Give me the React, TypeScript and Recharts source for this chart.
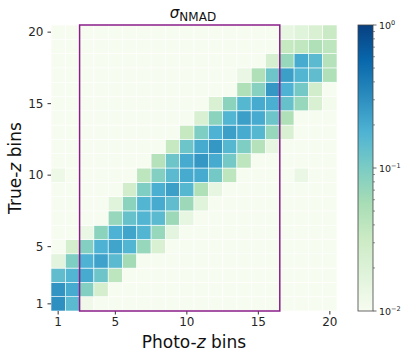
import { ScatterChart, Scatter, XAxis, YAxis, ReferenceArea } from 'recharts';

const photoZBins = [1, 2, 3, 4, 5, 6, 7, 8, 9, 10, 11, 12, 13, 14, 15, 16, 17, 18, 19, 20];
const trueZBins = [1, 2, 3, 4, 5, 6, 7, 8, 9, 10, 11, 12, 13, 14, 15, 16, 17, 18, 19, 20];
const xTicks = [1, 5, 10, 15, 20];
const yTicks = [1, 5, 10, 15, 20];
const colorbarTicks = [1, 0.1, 0.01];
const colorbarExponents = ['0', '\u22121', '\u22122'];
const minorTicks = [0.02, 0.03, 0.04, 0.05, 0.06, 0.07, 0.08, 0.09, 0.2, 0.3, 0.4, 0.5, 0.6, 0.7, 0.8, 0.9];

// sigma_NMAD per cell, one row per true-z bin (bottom row first), columns = photo-z bins 1..20
const sigmaRows: number[][] = [
  [0.3, 0.15, 0.012, 0.01, 0.01, 0.01, 0.01, 0.01, 0.01, 0.01, 0.01, 0.01, 0.01, 0.01, 0.01, 0.01, 0.01, 0.01, 0.01, 0.01],
  [0.28, 0.2, 0.09, 0.025, 0.01, 0.01, 0.01, 0.01, 0.01, 0.01, 0.01, 0.01, 0.01, 0.01, 0.01, 0.01, 0.01, 0.01, 0.01, 0.01],
  [0.14, 0.17, 0.2, 0.12, 0.04, 0.01, 0.01, 0.01, 0.01, 0.01, 0.01, 0.01, 0.01, 0.01, 0.01, 0.01, 0.01, 0.01, 0.01, 0.01],
  [0.017, 0.095, 0.18, 0.23, 0.15, 0.06, 0.01, 0.01, 0.01, 0.01, 0.01, 0.01, 0.01, 0.01, 0.01, 0.01, 0.01, 0.01, 0.01, 0.01],
  [0.01, 0.025, 0.09, 0.18, 0.22, 0.17, 0.07, 0.022, 0.01, 0.01, 0.01, 0.01, 0.01, 0.01, 0.01, 0.01, 0.01, 0.01, 0.01, 0.01],
  [0.01, 0.01, 0.014, 0.08, 0.18, 0.22, 0.17, 0.07, 0.016, 0.01, 0.01, 0.01, 0.01, 0.01, 0.01, 0.01, 0.01, 0.01, 0.01, 0.01],
  [0.01, 0.01, 0.01, 0.01, 0.07, 0.13, 0.17, 0.15, 0.065, 0.015, 0.01, 0.01, 0.01, 0.01, 0.01, 0.01, 0.01, 0.01, 0.01, 0.01],
  [0.01, 0.01, 0.01, 0.01, 0.018, 0.08, 0.17, 0.2, 0.14, 0.065, 0.018, 0.01, 0.01, 0.01, 0.01, 0.01, 0.01, 0.01, 0.01, 0.01],
  [0.01, 0.01, 0.01, 0.01, 0.01, 0.027, 0.095, 0.19, 0.24, 0.16, 0.05, 0.015, 0.01, 0.01, 0.01, 0.01, 0.01, 0.01, 0.01, 0.01],
  [0.013, 0.01, 0.01, 0.01, 0.01, 0.01, 0.04, 0.09, 0.15, 0.2, 0.2, 0.11, 0.04, 0.01, 0.01, 0.01, 0.01, 0.014, 0.01, 0.01],
  [0.01, 0.01, 0.01, 0.01, 0.01, 0.01, 0.01, 0.045, 0.12, 0.2, 0.27, 0.2, 0.11, 0.04, 0.01, 0.01, 0.01, 0.01, 0.01, 0.01],
  [0.01, 0.01, 0.01, 0.01, 0.01, 0.01, 0.01, 0.01, 0.035, 0.12, 0.2, 0.27, 0.16, 0.095, 0.045, 0.015, 0.01, 0.01, 0.01, 0.01],
  [0.01, 0.01, 0.01, 0.01, 0.01, 0.01, 0.01, 0.01, 0.01, 0.035, 0.095, 0.18, 0.24, 0.2, 0.16, 0.07, 0.022, 0.01, 0.01, 0.01],
  [0.01, 0.01, 0.01, 0.01, 0.01, 0.01, 0.01, 0.01, 0.01, 0.01, 0.022, 0.08, 0.17, 0.24, 0.2, 0.12, 0.05, 0.01, 0.01, 0.01],
  [0.01, 0.01, 0.01, 0.01, 0.01, 0.01, 0.01, 0.01, 0.01, 0.01, 0.01, 0.022, 0.08, 0.16, 0.2, 0.19, 0.13, 0.07, 0.022, 0.011],
  [0.01, 0.01, 0.01, 0.01, 0.01, 0.01, 0.01, 0.01, 0.01, 0.01, 0.01, 0.01, 0.01, 0.05, 0.085, 0.27, 0.18, 0.11, 0.027, 0.01],
  [0.01, 0.01, 0.01, 0.01, 0.01, 0.01, 0.01, 0.01, 0.01, 0.01, 0.01, 0.01, 0.01, 0.014, 0.05, 0.12, 0.24, 0.17, 0.14, 0.05],
  [0.01, 0.01, 0.01, 0.01, 0.01, 0.01, 0.01, 0.01, 0.01, 0.01, 0.01, 0.01, 0.01, 0.01, 0.01, 0.024, 0.07, 0.2, 0.15, 0.045],
  [0.01, 0.01, 0.01, 0.01, 0.01, 0.01, 0.01, 0.01, 0.01, 0.01, 0.01, 0.01, 0.01, 0.01, 0.01, 0.01, 0.035, 0.038, 0.05, 0.04],
  [0.01, 0.01, 0.01, 0.01, 0.01, 0.01, 0.01, 0.01, 0.01, 0.01, 0.01, 0.01, 0.01, 0.01, 0.01, 0.01, 0.015, 0.018, 0.022, 0.033],
];

// matplotlib GnBu
const GNBU = ['#f7fcf0', '#e0f3db', '#ccebc5', '#a8ddb5', '#7bccc4', '#4eb3d3', '#2b8cbe', '#0868ac', '#084081'];

const W = 409;
const H = 359;
const PLOT_LEFT = 51;
const PLOT_TOP = 25;
const PLOT_W = 286;
const PLOT_H = 286;
const CELL_W = PLOT_W / 20;
const CELL_H = PLOT_H / 20;
const CBAR_X = 358;
const CBAR_W = 15;
const FONT = 'DejaVu Sans, sans-serif';

function hexToRgb(h: string) {
  const n = parseInt(h.slice(1), 16);
  return [(n >> 16) & 255, (n >> 8) & 255, n & 255];
}

function logFrac(v: number) {
  return Math.min(1, Math.max(0, (Math.log10(v) + 2) / 2));
}

function colorFor(v: number) {
  const s = logFrac(v) * 8;
  const i = Math.min(7, Math.floor(s));
  const f = s - i;
  const a = hexToRgb(GNBU[i]);
  const b = hexToRgb(GNBU[i + 1]);
  const c = a.map((x, k) => Math.round(x + (b[k] - x) * f));
  return `rgb(${c[0]},${c[1]},${c[2]})`;
}

const cells = sigmaRows.flatMap((row, j) =>
  row.map((v, i) => ({ x: photoZBins[i], y: trueZBins[j], v }))
);

const HeatCell = (props: any) => {
  const { cx, cy, payload } = props;
  return (
    <rect
      x={cx - CELL_W / 2}
      y={cy - CELL_H / 2}
      width={CELL_W}
      height={CELL_H}
      fill={colorFor(payload.v)}
      stroke="#ffffff"
      strokeWidth={0.6}
    />
  );
};

const tickStyle = { fontSize: 12, fill: '#262626', fontFamily: FONT };

const App = () => {
  const cbarY = (v: number) => PLOT_TOP + PLOT_H - logFrac(v) * PLOT_H;
  return (
    <div style={{ position: 'absolute', left: 0, top: 0, width: W, height: H, background: '#fff' }}>
      <ScatterChart width={W} height={H} margin={{ top: PLOT_TOP, right: 72, bottom: 28, left: 21 }}>
        <XAxis
          type="number"
          dataKey="x"
          domain={[0.5, 20.5]}
          ticks={xTicks}
          height={20}
          axisLine={false}
          tickLine={{ stroke: '#333' }}
          tickSize={3.5}
          tickMargin={3}
          tick={tickStyle}
          allowDataOverflow
        />
        <YAxis
          type="number"
          dataKey="y"
          domain={[0.5, 20.5]}
          ticks={yTicks}
          width={30}
          axisLine={false}
          tickLine={{ stroke: '#333' }}
          tickSize={3.5}
          tickMargin={4}
          tick={tickStyle}
          allowDataOverflow
        />
        <Scatter data={cells} shape={HeatCell} isAnimationActive={false} />
        <ReferenceArea
          x1={2.5}
          x2={16.5}
          y1={0.5}
          y2={20.5}
          fill="none"
          fillOpacity={0}
          stroke="#8b1e8b"
          strokeWidth={1.5}
          ifOverflow="visible"
          zIndex={1000}
        />
      </ScatterChart>

      <svg width={W} height={H} style={{ position: 'absolute', left: 0, top: 0, pointerEvents: 'none' }}>
        <defs>
          <linearGradient id="gnbu" x1="0" y1="1" x2="0" y2="0">
            {GNBU.map((c, i) => (
              <stop key={c} offset={i / 8} stopColor={c} />
            ))}
          </linearGradient>
        </defs>

        <text x={193} y={18} textAnchor="middle" fontFamily={FONT} fill="#111">
          <tspan fontSize={15} fontStyle="italic">σ</tspan>
          <tspan fontSize={12} dy={3}>NMAD</tspan>
        </text>

        <text x={PLOT_LEFT + PLOT_W / 2} y={348} textAnchor="middle" fontFamily={FONT} fontSize={17} fill="#111">
          Photo-<tspan fontStyle="italic">z</tspan> bins
        </text>

        <text
          x={20.5}
          y={PLOT_TOP + PLOT_H / 2}
          textAnchor="middle"
          fontFamily={FONT}
          fontSize={17}
          fill="#111"
          transform={`rotate(-90 20.5 ${PLOT_TOP + PLOT_H / 2})`}
        >
          True-<tspan fontStyle="italic">z</tspan> bins
        </text>

        <rect x={CBAR_X} y={PLOT_TOP} width={CBAR_W} height={PLOT_H} fill="url(#gnbu)" stroke="#444" strokeWidth={0.8} />
        {minorTicks.map((v) => (
          <line key={v} x1={CBAR_X + CBAR_W} x2={CBAR_X + CBAR_W + 2} y1={cbarY(v)} y2={cbarY(v)} stroke="#444" strokeWidth={0.6} />
        ))}
        {colorbarTicks.map((v, i) => (
          <g key={v}>
            <line x1={CBAR_X + CBAR_W} x2={CBAR_X + CBAR_W + 3.5} y1={cbarY(v)} y2={cbarY(v)} stroke="#444" strokeWidth={0.8} />
            <text x={CBAR_X + CBAR_W + 6} y={cbarY(v) + 3.5} fontFamily={FONT} fontSize={9.5} fill="#222">
              10<tspan fontSize={6.5} dy={-4}>{colorbarExponents[i]}</tspan>
            </text>
          </g>
        ))}
      </svg>
    </div>
  );
};

export default App;
